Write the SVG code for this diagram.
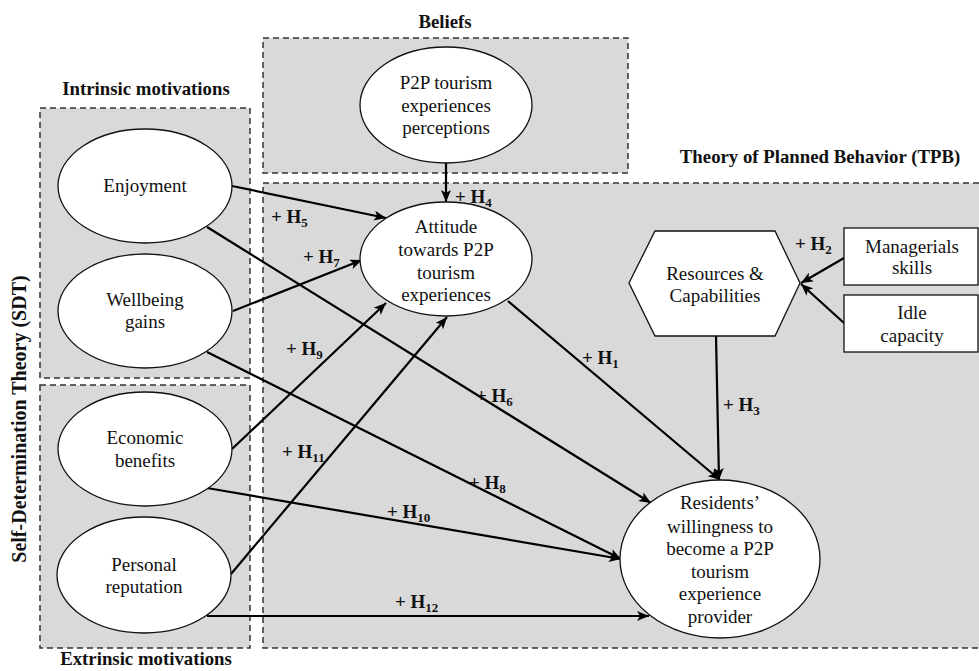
<svg xmlns="http://www.w3.org/2000/svg" width="979" height="671" viewBox="0 0 979 671">
<defs>
<marker id="arr" viewBox="0 0 12 10" refX="12" refY="5" markerWidth="12" markerHeight="10" markerUnits="userSpaceOnUse" orient="auto">
<path d="M0,0 L12,5 L0,10 L3,5 Z" fill="#000"/>
</marker>
</defs>
<style>
.grp{fill:#d9d9d9;stroke:#333;stroke-width:1.5;stroke-dasharray:6 4}
.node{fill:#fff;stroke:#111;stroke-width:1.3}
.t{font-family:"Liberation Serif","Times New Roman",serif;font-size:19px;fill:#111;text-anchor:middle}
.hd{font-family:"Liberation Serif","Times New Roman",serif;font-size:18.8px;font-weight:bold;fill:#111;text-anchor:middle}
.h{font-family:"Liberation Serif","Times New Roman",serif;font-size:19px;font-weight:bold;fill:#111}
.sub{font-size:13px}
.c{fill:none;stroke:#000;stroke-width:2.2;marker-end:url(#arr)}
</style>
<rect width="979" height="671" fill="#fff"/>

<g id="groups">
<rect class="grp" x="263" y="38" width="365" height="135"/>
<rect class="grp" x="40" y="108" width="210" height="270"/>
<rect class="grp" x="40" y="385" width="210" height="263"/>
<rect class="grp" x="263" y="183" width="720" height="465"/>
<text class="hd" x="445" y="28">Beliefs</text>
<text class="hd" x="146" y="95">Intrinsic motivations</text>
<text class="hd" x="820" y="163">Theory of Planned Behavior (TPB)</text>
<text class="hd" x="146" y="665">Extrinsic motivations</text>
<text class="hd" style="font-size:20px" transform="translate(26,419) rotate(-90)">Self-Determination Theory (SDT)</text>
</g>

<g id="connectors">
<line class="c" x1="446" y1="163" x2="446" y2="202"/>
<line class="c" x1="232" y1="186" x2="386" y2="218"/>
<line class="c" x1="207" y1="227" x2="651" y2="503"/>
<line class="c" x1="233" y1="311" x2="362" y2="260"/>
<line class="c" x1="207" y1="352" x2="621" y2="559"/>
<line class="c" x1="232" y1="449" x2="386" y2="303"/>
<line class="c" x1="207" y1="488" x2="621" y2="559"/>
<line class="c" x1="231" y1="574" x2="447" y2="317"/>
<line class="c" x1="207" y1="616" x2="649" y2="616"/>
<line class="c" x1="508" y1="301" x2="720" y2="480"/>
<line class="c" x1="716" y1="336" x2="719" y2="480"/>
<line class="c" x1="844" y1="258" x2="801" y2="283"/>
<line class="c" x1="844" y1="323" x2="801" y2="284"/>
<text class="h" x="455" y="203">+ H<tspan class="sub" dy="4">4</tspan></text>
<text class="h" x="271" y="223">+ H<tspan class="sub" dy="4">5</tspan></text>
<text class="h" x="303" y="263">+ H<tspan class="sub" dy="4">7</tspan></text>
<text class="h" x="286" y="355">+ H<tspan class="sub" dy="4">9</tspan></text>
<text class="h" x="282" y="458">+ H<tspan class="sub" dy="4">11</tspan></text>
<text class="h" x="476" y="402">+ H<tspan class="sub" dy="4">6</tspan></text>
<text class="h" x="469" y="489">+ H<tspan class="sub" dy="4">8</tspan></text>
<text class="h" x="387" y="518">+ H<tspan class="sub" dy="4">10</tspan></text>
<text class="h" x="395" y="608">+ H<tspan class="sub" dy="4">12</tspan></text>
<text class="h" x="582" y="364">+ H<tspan class="sub" dy="4">1</tspan></text>
<text class="h" x="723" y="411">+ H<tspan class="sub" dy="4">3</tspan></text>
<text class="h" x="795" y="250">+ H<tspan class="sub" dy="4">2</tspan></text>
</g>

<g id="p2p-perceptions">
<ellipse class="node" cx="446" cy="105" rx="86" ry="58"/>
<text class="t" x="446" y="89">P2P tourism</text>
<text class="t" x="446" y="112">experiences</text>
<text class="t" x="446" y="134">perceptions</text>
</g>
<g id="enjoyment">
<ellipse class="node" cx="145" cy="186" rx="87" ry="57"/>
<text class="t" x="145" y="192">Enjoyment</text>
</g>
<g id="wellbeing">
<ellipse class="node" cx="145" cy="311" rx="87" ry="57"/>
<text class="t" x="145" y="306">Wellbeing</text>
<text class="t" x="145" y="328">gains</text>
</g>
<g id="economic">
<ellipse class="node" cx="145" cy="449" rx="87" ry="57"/>
<text class="t" x="145" y="444">Economic</text>
<text class="t" x="145" y="467">benefits</text>
</g>
<g id="reputation">
<ellipse class="node" cx="144" cy="575" rx="87" ry="58"/>
<text class="t" x="144" y="571">Personal</text>
<text class="t" x="144" y="593">reputation</text>
</g>
<g id="attitude">
<ellipse class="node" cx="446" cy="259" rx="86" ry="57"/>
<text class="t" x="446" y="233">Attitude</text>
<text class="t" x="446" y="256">towards P2P</text>
<text class="t" x="446" y="279">tourism</text>
<text class="t" x="446" y="301">experiences</text>
</g>
<g id="resources">
<polygon class="node" points="629,283 655,231 775,231 800,283 775,336 655,336"/>
<text class="t" x="715" y="280">Resources &amp;</text>
<text class="t" x="715" y="302">Capabilities</text>
</g>
<g id="managerial">
<rect class="node" x="844" y="228" width="134" height="57"/>
<text class="t" x="912" y="253">Managerials</text>
<text class="t" x="912" y="274">skills</text>
</g>
<g id="idle">
<rect class="node" x="844" y="295" width="134" height="57"/>
<text class="t" x="912" y="319">Idle</text>
<text class="t" x="912" y="342">capacity</text>
</g>
<g id="willingness">
<ellipse class="node" cx="720" cy="559" rx="100" ry="79"/>
<text class="t" x="720" y="509">Residents’</text>
<text class="t" x="720" y="533">willingness to</text>
<text class="t" x="720" y="555">become a P2P</text>
<text class="t" x="720" y="578">tourism</text>
<text class="t" x="720" y="600">experience</text>
<text class="t" x="720" y="623">provider</text>
</g>
</svg>
